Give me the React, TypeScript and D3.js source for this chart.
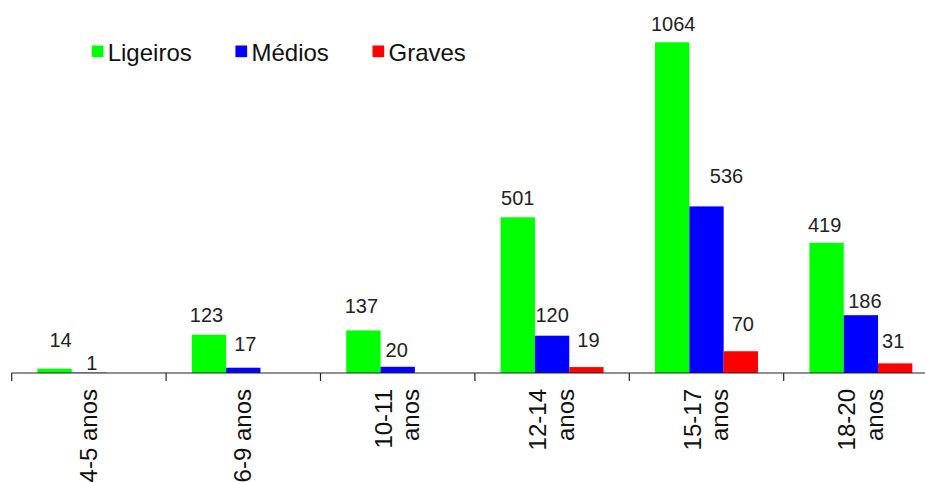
import React from "react";
import * as d3 from "d3";

const categories = ["4-5 anos", "6-9 anos", "10-11 anos", "12-14 anos", "15-17 anos", "18-20 anos"];
const categoryLines = [["4-5 anos"], ["6-9 anos"], ["10-11", "anos"], ["12-14", "anos"], ["15-17", "anos"], ["18-20", "anos"]];
const seriesNames = ["Ligeiros", "Médios", "Graves"];
const ligeiros = [14, 123, 137, 501, 1064, 419];
const medios = [1, 17, 20, 120, 536, 186];
const graves = [0, 0, 0, 19, 70, 31];
const seriesValues = [ligeiros, medios, graves];
const colors = ["#00ff00", "#0000ff", "#ff0000"];

// label nudges (dx, dy from bar top) matching the manually placed labels
const labelNudge: [number, number][][] = [
  [[6, -22], [-2.5, -13], [-2, -17.7], [0, -12.3], [1, -11.6], [-2, -11]],
  [[3, -3], [2, -17], [-1, -10], [0, -14], [20, -23], [4, -7]],
  [[0, 0], [0, 0], [0, 0], [2, -20.4], [2, -20.5], [-2, -15]],
];

const W = 925;
const H = 482;
const FONT = "'Liberation Sans', Arial, Helvetica, sans-serif";

function measure(text: string, size: number): number {
  if (typeof document === "undefined") return text.length * size * 0.5;
  const c = document.createElement("canvas");
  const ctx = c.getContext("2d");
  if (!ctx) return text.length * size * 0.5;
  ctx.font = `${size}px ${FONT}`;
  return ctx.measureText(text).width;
}

export default function App() {
  const baseY = 373;
  const x0 = d3.scaleBand<string>().domain(categories).range([11.7, 11.7 + 6 * 154.4]).paddingInner(0).paddingOuter(0);
  const x1 = d3.scaleBand<string>().domain(seriesNames).range([0, x0.bandwidth()]).paddingInner(0).paddingOuter(0.75);
  const y = d3.scaleLinear().domain([0, 1200]).range([baseY, baseY - 1200 * 0.3108]);

  const labelSize = 20;
  const axisSize = 24;
  const legendSize = 24;
  const lineH = 1.149 * axisSize;

  // legend layout
  const legendItems: { name: string; color: string; sx: number; tx: number }[] = [];
  let lx = 91.7;
  seriesNames.forEach((name, i) => {
    const tx = lx + 16;
    legendItems.push({ name, color: colors[i], sx: lx, tx });
    lx = tx + measure(name, legendSize) + 43.7;
  });

  const ticks = categories.map((c) => x0(c)!);
  const axisEnd = x0.range()[1];

  return (
    <svg width={W} height={H} style={{ position: "absolute", left: 0, top: 0, background: "#fff" }} fontFamily={FONT}>
      {/* bars */}
      {seriesValues.map((vals, si) =>
        vals.map((v, ci) => {
          if (v <= 0) return null;
          const bx = x0(categories[ci])! + x1(seriesNames[si])!;
          return (
            <rect key={`b${si}-${ci}`} x={bx} y={y(v)} width={x1.bandwidth()} height={baseY - y(v)} fill={colors[si]} />
          );
        })
      )}
      {/* axis */}
      <line x1={ticks[0]} x2={axisEnd} y1={baseY} y2={baseY} stroke="#222" strokeWidth={1.2} />
      {ticks.concat([axisEnd]).map((t, i) => (
        <line key={`t${i}`} x1={t} x2={t} y1={baseY} y2={baseY + 8} stroke="#222" strokeWidth={1.2} />
      ))}
      {/* category labels */}
      {categories.map((c, ci) => {
        const cx = x0(c)! + x0.bandwidth() / 2;
        const lines = categoryLines[ci];
        return (
          <g key={`c${ci}`}>
            {lines.map((ln, li) => {
              const bx = cx + (li - (lines.length - 1) / 2) * lineH + 0.33 * axisSize;
              return (
                <text
                  key={li}
                  transform={`translate(${bx},389) rotate(-90)`}
                  textAnchor="end"
                  fontSize={axisSize}
                  fill="#111"
                >
                  {ln}
                </text>
              );
            })}
          </g>
        );
      })}
      {/* data labels */}
      {seriesValues.map((vals, si) =>
        vals.map((v, ci) => {
          if (v <= 0) return null;
          const cx = x0(categories[ci])! + x1(seriesNames[si])! + x1.bandwidth() / 2;
          const [dx, dy] = labelNudge[si][ci];
          return (
            <text key={`l${si}-${ci}`} x={cx + dx} y={y(v) + dy} textAnchor="middle" fontSize={labelSize} fill="#222">
              {v}
            </text>
          );
        })
      )}
      {/* legend */}
      {legendItems.map((it) => (
        <g key={it.name}>
          <rect x={it.sx} y={45.5} width={11.7} height={11.7} fill={it.color} />
          <text x={it.tx} y={60.5} fontSize={legendSize} fill="#111">
            {it.name}
          </text>
        </g>
      ))}
    </svg>
  );
}
